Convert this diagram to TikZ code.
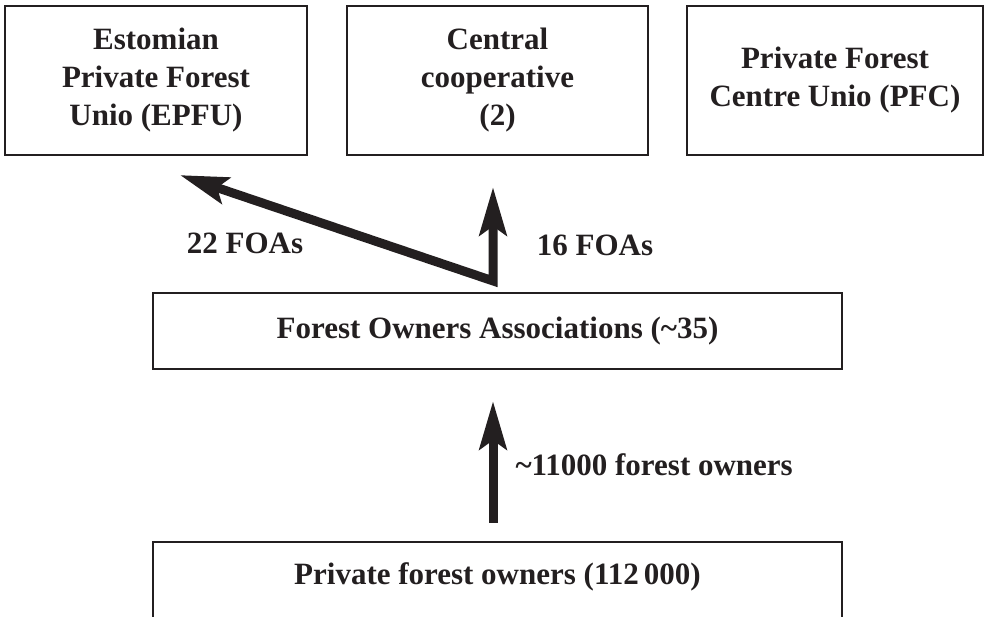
\documentclass[tikz,border=0pt]{standalone}
\usepackage{fontspec}
\setmainfont{Liberation Serif}
\usetikzlibrary{arrows.meta,calc}
\definecolor{ink}{HTML}{231F20}
\begin{document}
\begin{tikzpicture}[x=1pt,y=-1pt,
  txt/.style={text=ink,font=\bfseries\fontsize{31}{38}\selectfont,align=center},
  box/.style={txt,draw=ink,line width=2.2pt,inner sep=0pt},
  topbox/.style={box,minimum height=149pt},
  bigarrow/.style={draw=ink,line width=9pt,line join=miter,
    arrows={-Stealth[length=48pt,width=27pt,inset=9pt]}},
  twoarrow/.style={draw=ink,line width=9pt,line join=miter,
    arrows={Stealth[length=48pt,width=27pt,inset=9pt]-Stealth[length=48pt,width=27pt,inset=9pt]}}]
\useasboundingbox (0,0) rectangle (988,616);
\clip (0,0) rectangle (988,616);
% top boxes
\node[topbox,minimum width=302pt] (epfu) at (156,80.5) {Estomian\\Private Forest\\Unio (EPFU)};
\node[topbox,minimum width=301pt] (cc) at (497.5,80.5) {Central\\cooperative\\(2)};
\node[topbox,minimum width=296pt] (pfc) at (835,80.5) {Private Forest\\Centre Unio (PFC)};
% middle box
\node[box,minimum width=689pt,minimum height=76pt] (foa) at (497.5,331) {Forest Owners Associations (\textasciitilde35)};
% bottom box (cut off by the lower edge)
\node[box,minimum width=689pt,minimum height=100pt] (pfo) at (497.5,592) {};
\node[txt] (pfot) at (497.5,577) {Private forest owners (112\,000)};
% connectors
\coordinate (corner) at ([xshift=-4.5pt,yshift=11pt]foa.north);
\coordinate (tipL) at ([xshift=24pt,yshift=-19pt]epfu.south);
\coordinate (tipC) at ([xshift=-4.5pt,yshift=-31pt]cc.south);
\draw[twoarrow] (tipL) -- (corner) -- (tipC);
\draw[bigarrow,shorten <=18pt,shorten >=31pt] ([xshift=-4.5pt]pfo.north) -- ([xshift=-4.5pt]foa.south);
% labels
\node[txt] (l22) at (245,243) {22 FOAs};
\node[txt] (l16) at (595,245) {16 FOAs};
\node[txt,anchor=west] (l11) at (512,465) {\textasciitilde11000 forest owners};
\end{tikzpicture}
\end{document}
